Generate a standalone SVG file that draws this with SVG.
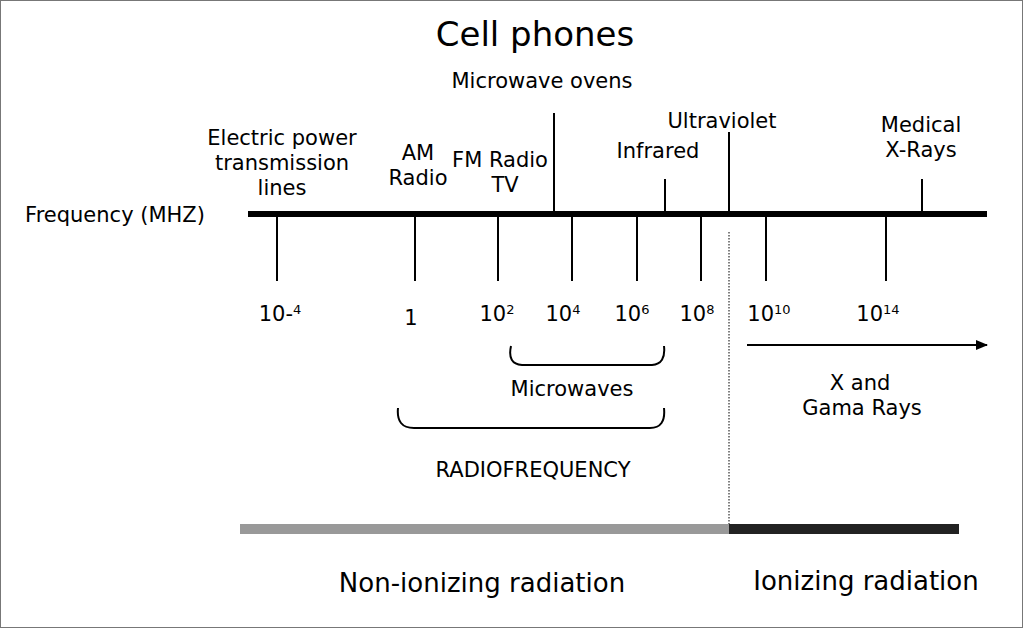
<svg xmlns="http://www.w3.org/2000/svg" width="1023" height="628" viewBox="0 0 1023 628">
<defs>
<marker id="arr" markerWidth="12" markerHeight="10" refX="11" refY="5" orient="auto" markerUnits="userSpaceOnUse">
<path d="M0,0 L12,5 L0,10 Z" fill="#000"/>
</marker>
<style>
.t{font-family:"DejaVu Sans",Verdana,sans-serif;font-size:21px;fill:#000;text-anchor:middle}
.c{font-family:"DejaVu Sans",Verdana,sans-serif;fill:#000;text-anchor:middle}
.sup{font-size:13px}
.tk{stroke:#000;stroke-width:2;fill:none}
.br{stroke:#000;stroke-width:2;fill:none}
</style>
</defs>
<rect x="0.5" y="0.5" width="1022" height="627" fill="#fff" stroke="#777" stroke-width="1"/>
<g id="connectors">
<line x1="248" y1="214" x2="987" y2="214" stroke="#000" stroke-width="6"/>
<path class="tk" d="M277,217V281 M415,217V281 M498,217V281 M572,217V281 M637,217V281 M701,217V281 M766,217V281 M886,217V281"/>
<path class="tk" d="M554,113V214 M665,179V214 M729,132V214 M922,179V214"/>
<line x1="729" y1="232" x2="729" y2="528" stroke="#000" stroke-width="1" stroke-dasharray="1.5,1.5"/>
<line x1="747" y1="345" x2="987" y2="345" stroke="#000" stroke-width="2" marker-end="url(#arr)"/>
<path class="br" d="M511,346 Q507,364 522,365 L652,365 Q666,364 664,346"/>
<path class="br" d="M398,408 Q396,428 414,428 L650,428 Q666,428 664,408"/>
<rect x="240" y="524" width="489" height="10" fill="#999"/>
<rect x="729" y="524" width="230" height="10" fill="#222"/>
</g>
<g id="title"><text class="c" x="535" y="46" font-size="34">Cell phones</text></g>
<g id="microwave-ovens"><text class="t" x="542" y="88">Microwave ovens</text></g>
<g id="electric"><text class="t" x="282" y="145">Electric power</text><text class="t" x="282" y="170">transmission</text><text class="t" x="282" y="195">lines</text></g>
<g id="am"><text class="t" x="418" y="160">AM</text><text class="t" x="418" y="185">Radio</text></g>
<g id="fm"><text class="t" x="500" y="167">FM Radio</text><text class="t" x="505" y="192">TV</text></g>
<g id="infrared"><text class="t" x="658" y="158">Infrared</text></g>
<g id="ultraviolet"><text class="t" x="722" y="128">Ultraviolet</text></g>
<g id="medical"><text class="t" x="921" y="132">Medical</text><text class="t" x="921" y="157">X-Rays</text></g>
<g id="frequency"><text class="t" x="115" y="222">Frequency (MHZ)</text></g>
<g id="ticklabels">
<text class="t" x="280" y="321">10-<tspan class="sup" dy="-7">4</tspan></text>
<text class="t" x="411" y="325">1</text>
<text class="t" x="497" y="321">10<tspan class="sup" dy="-7">2</tspan></text>
<text class="t" x="563" y="321">10<tspan class="sup" dy="-7">4</tspan></text>
<text class="t" x="632" y="321">10<tspan class="sup" dy="-7">6</tspan></text>
<text class="t" x="697" y="321">10<tspan class="sup" dy="-7">8</tspan></text>
<text class="t" x="769" y="321">10<tspan class="sup" dy="-7">10</tspan></text>
<text class="t" x="878" y="321">10<tspan class="sup" dy="-7">14</tspan></text>
</g>
<g id="microwaves"><text class="t" x="572" y="396">Microwaves</text></g>
<g id="xgamma"><text class="t" x="860" y="390">X and</text><text class="t" x="862" y="415">Gama Rays</text></g>
<g id="radiofrequency"><text class="t" x="533" y="477">RADIOFREQUENCY</text></g>
<g id="nonionizing"><text class="c" x="482" y="592" font-size="26">Non-ionizing radiation</text></g>
<g id="ionizing"><text class="c" x="866" y="590" font-size="26">Ionizing radiation</text></g>
</svg>
